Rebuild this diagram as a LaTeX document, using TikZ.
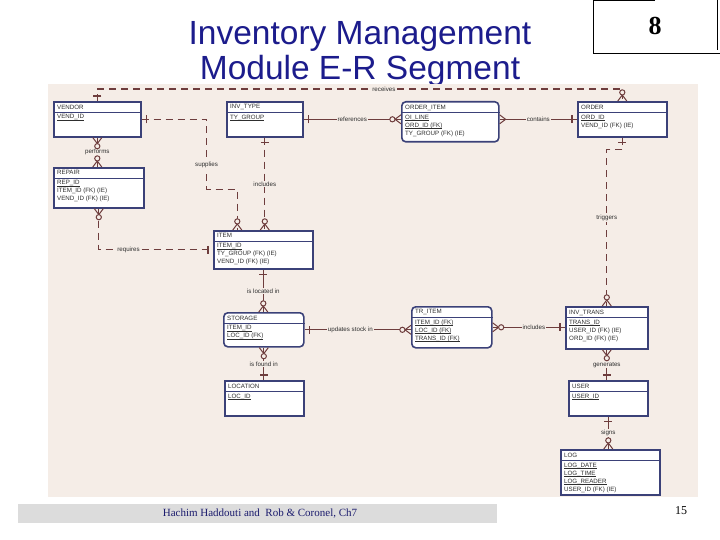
\documentclass[tikz,border=0pt]{standalone}
\usepackage{fontspec}
\setmainfont{Liberation Serif}
\setsansfont{Liberation Sans}
\usepackage{xcolor}
\usetikzlibrary{positioning, calc}
\definecolor{erbg}{HTML}{F5EDE7}
\definecolor{ernavy}{HTML}{3B4178}
\definecolor{errel}{HTML}{6E3D3D}
\definecolor{ertext}{HTML}{2E2E2E}
\definecolor{titleblue}{HTML}{1C1C8C}
\definecolor{footgray}{HTML}{DCDCDC}
\definecolor{footblue}{HTML}{1C1C6E}

% key attribute, underlined close to the text
\newcommand{\pkey}[1]{\leavevmode\setbox0\hbox{#1}\rlap{\rule[-1.1pt]{\wd0}{0.45pt}}\box0}

% one entity: box, header rule, name, attributes
\newcommand{\erentity}[8][]{%
  \node[entity, #1, minimum width=#5pt, minimum height=#6pt] (#2) at (#3,#4) {};
  \draw[ernavy, line width=0.9pt] ([yshift=-11pt]#2.north west) -- ([yshift=-11pt]#2.north east);
  \node[etitle] at ([xshift=3pt, yshift=-2.5pt]#2.north west) {#7};
  \node[eattr] at ([xshift=3pt, yshift=-12.5pt]#2.north west) {#8};
}

\begin{document}
\begin{tikzpicture}[
    x=1pt, y=-1pt,
    entity/.style={draw=ernavy, line width=1.6pt, fill=white, anchor=north west, inner sep=0pt},
    etitle/.style={anchor=north west, inner sep=1pt, text=ertext,
                   font=\sffamily\fontsize{6.2}{8}\selectfont},
    eattr/.style={etitle, align=left},
    rel/.style={errel, line width=1.2pt},
    dashed/.style={dash pattern=on 7pt off 5pt},
    lbl/.style={fill=erbg, inner sep=1pt, text=ertext,
                font=\sffamily\fontsize{6.2}{7}\selectfont},
    ttl/.style={anchor=base, text=titleblue, font=\sffamily\fontsize{33.5}{36}\selectfont},
    one/.pic={\draw[errel, line width=1.2pt] (-5,-4) -- (-5,4);},
    many/.pic={\draw[errel, line width=1pt] (0,-4.5) -- (-6,0) -- (0,4.5);},
    zmany/.pic={\draw[errel, line width=1pt] (0,-4.5) -- (-6,0) -- (0,4.5);
                \draw[errel, line width=1pt, fill=erbg] (-8.6,0) circle (2.6);}
  ]
    \useasboundingbox (0,0) rectangle (720,540);

    % slide title and number box
    \node[ttl] (title1) at (360,45) {Inventory Management};
    \node[ttl] (title2) at (360,80) {Module E-R Segment};
    \draw[black, line width=0.6pt] (655,0) -- (593,0) -- (593,53) -- (720,53);
    \draw[black, line width=0.6pt] (717,0) -- (717,50);
    \node[font=\bfseries\fontsize{26}{28}\selectfont] (slideno) at (655,26) {8};

    % diagram background
    \fill[erbg] (48,84) rectangle (698,497);

    % entities
    \erentity{vendor}{53}{101}{87}{35}{VENDOR}{\pkey{VEND\_ID}}
    \erentity{invtype}{226}{101}{76}{35}{INV\_TYPE}{\pkey{TY\_GROUP}}
    \erentity[rounded corners=4pt]{orditem}{401}{101}{97}{40}{ORDER\_ITEM}
      {\pkey{OI\_LINE}\\\pkey{ORD\_ID (FK)}\\TY\_GROUP (FK) (IE)}
    \erentity{order}{577}{101}{89}{35}{ORDER}{\pkey{ORD\_ID}\\VEND\_ID (FK) (IE)}
    \erentity{repair}{53}{167}{90}{40}{REPAIR}
      {\pkey{REP\_ID}\\ITEM\_ID (FK) (IE)\\VEND\_ID (FK) (IE)}
    \erentity{item}{213}{230}{99}{38}{ITEM}
      {\pkey{ITEM\_ID}\\TY\_GROUP (FK) (IE)\\VEND\_ID (FK) (IE)}
    \erentity[rounded corners=4pt]{storage}{223}{312}{80}{34}{STORAGE}
      {\pkey{ITEM\_ID}\\\pkey{LOC\_ID (FK)}}
    \erentity[rounded corners=4pt]{tritem}{411}{306}{80}{41}{TR\_ITEM}
      {\pkey{ITEM\_ID (FK)}\\\pkey{LOC\_ID (FK)}\\\pkey{TRANS\_ID (FK)}}
    \erentity{invtrans}{565}{306}{82}{42}{INV\_TRANS}
      {\pkey{TRANS\_ID}\\USER\_ID (FK) (IE)\\ORD\_ID (FK) (IE)}
    \erentity{location}{224}{380}{79}{35}{LOCATION}{\pkey{LOC\_ID}}
    \erentity{user}{568}{380}{79}{35}{USER}{\pkey{USER\_ID}}
    \erentity{log}{560}{449}{99}{45}{LOG}
      {\pkey{LOG\_DATE}\\\pkey{LOG\_TIME}\\\pkey{LOG\_READER}\\USER\_ID (FK) (IE)}
    \coordinate (supin) at ([xshift=-26pt]item.north);

    % relationships
    \draw[rel, dashed] (vendor.north) -- ++(0,-12) -| (order.north)
      node[lbl, pos=0.273] {receives};
    \draw[rel, dashed] (vendor.east) -- ++(65,0) -- ++(0,70)
      node[lbl, pos=0.65] {supplies} -| (supin);
    \draw[rel, dashed] (invtype.south) -- (invtype.south |- item.north)
      node[lbl, midway] {includes};
    \draw[rel] (invtype.east) -- (invtype.east -| orditem.west)
      node[lbl, midway] {references};
    \draw[rel] (order.west -| orditem.east) -- (order.west)
      node[lbl, midway] {contains};
    \draw[rel, dashed] (vendor.south) -- (vendor.south |- repair.north)
      node[lbl, midway] {performs};
    \draw[rel, dashed] (repair.south) |- (item.west)
      node[lbl, pos=0.63] {requires};
    \draw[rel, dashed] (order.south) -- ++(0,12) -| (invtrans.north)
      node[lbl, pos=0.718] {triggers};
    \draw[rel] (item.south) -- (item.south |- storage.north)
      node[lbl, midway] {is located in};
    \draw[rel] (storage.east) -- (storage.east -| tritem.west)
      node[lbl, pos=0.43] {updates stock in};
    \draw[rel] (storage.south) -- (storage.south |- location.north)
      node[lbl, midway] {is found in};
    \draw[rel] (tritem.east) -- (tritem.east -| invtrans.west)
      node[lbl, pos=0.57] {includes};
    \draw[rel] (invtrans.south) -- (invtrans.south |- user.north)
      node[lbl, midway] {generates};
    \draw[rel] (user.south) -- (user.south |- log.north)
      node[lbl, midway] {signs};

    % cardinality marks
    \foreach \p/\r in {vendor.north/-90, vendor.east/180, invtype.south/90,
        invtype.east/180, order.west/0, item.west/0, order.south/90,
        item.south/90, storage.east/180, storage.south |- location.north/-90,
        tritem.east -| invtrans.west/0, invtrans.south |- user.north/-90,
        user.south/90}
      \pic[rotate=\r] at (\p) {one};
    \foreach \p/\r in {order.north/-90, supin/-90,
        invtype.south |- item.north/-90, invtype.east -| orditem.west/0,
        vendor.south/90, vendor.south |- repair.north/-90, repair.south/90,
        invtrans.north/-90, item.south |- storage.north/-90,
        storage.east -| tritem.west/0, storage.south/90, tritem.east/180,
        invtrans.south/90, user.south |- log.north/-90}
      \pic[rotate=\r] at (\p) {zmany};
    \pic[rotate=180] at (order.west -| orditem.east) {many};

    % footer
    \node[fill=footgray, anchor=north west, minimum width=479pt, minimum height=19pt,
          inner sep=0pt] (footbar) at (18,504) {};
    \node[text=footblue, font=\fontsize{11}{12}\selectfont] (foottext) at (260,514)
      {Hachim Haddouti and\ \ Rob \& Coronel, Ch7};
    \node[font=\fontsize{12}{14}\selectfont] (pageno) at (681,511) {15};
  \end{tikzpicture}
\end{document}
